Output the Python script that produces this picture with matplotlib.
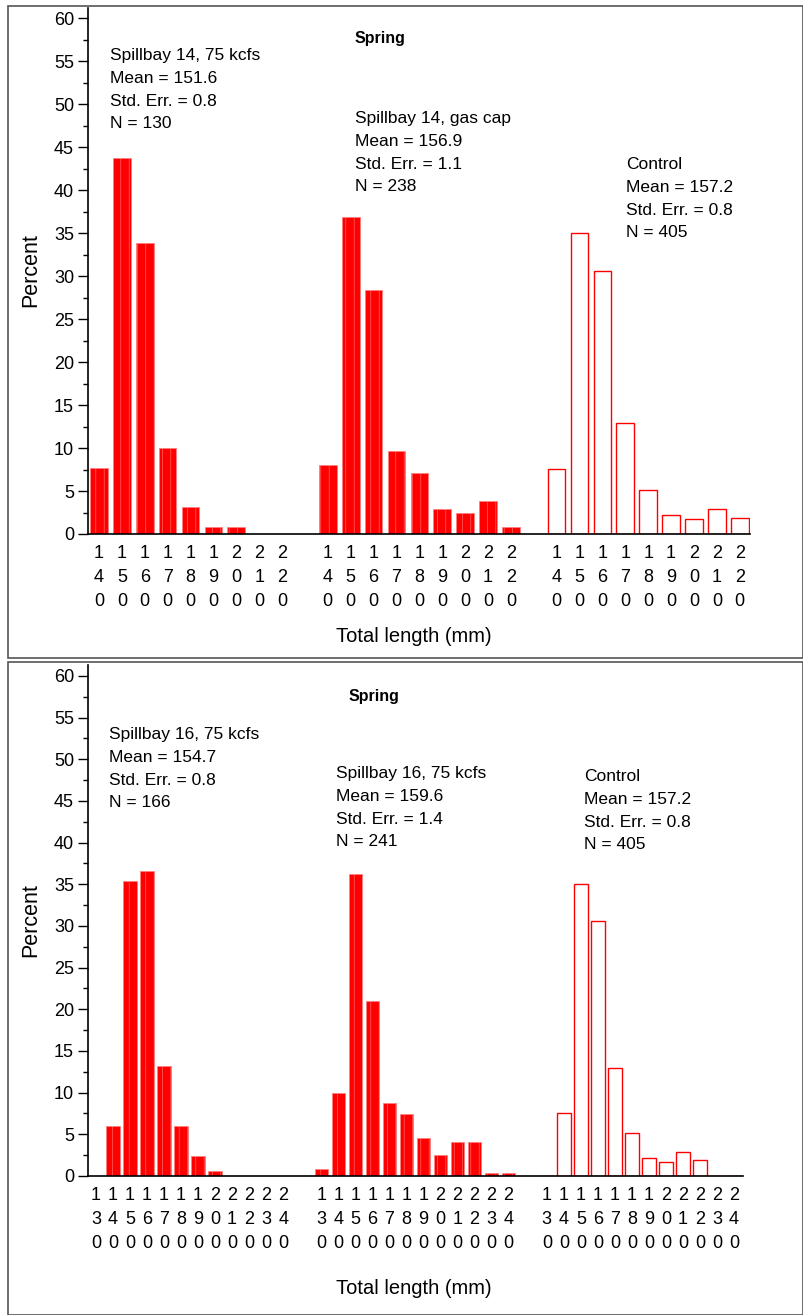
import matplotlib
matplotlib.use("Agg")
import matplotlib.pyplot as plt
import numpy as np
from matplotlib import font_manager
from matplotlib.patches import Rectangle
from matplotlib.ticker import MultipleLocator

# SAS output uses a condensed Helvetica; take a narrow face if one is installed
names = {f.name for f in font_manager.fontManager.ttflist}
narrow = 'Liberation Sans Narrow' in names
plt.rcParams['font.family'] = (['Liberation Sans Narrow'] if narrow else []) + ['Liberation Sans', 'DejaVu Sans']
plt.rcParams['hatch.linewidth'] = 0.4
sp = '  ' if narrow else ' '

# ---- data (percent of fish per 10 mm length bin) ----
bins_top = [140, 150, 160, 170, 180, 190, 200, 210, 220]
sb14_75 = [7.7, 43.8, 33.8, 10.0, 3.1, 0.8, 0.8, 0.0, 0.0]
sb14_gas = [8.0, 36.9, 28.4, 9.7, 7.1, 2.9, 2.5, 3.8, 0.8]
control_top = [7.6, 35.0, 30.6, 12.9, 5.1, 2.2, 1.7, 2.9, 1.9]

bins_bot = [130, 140, 150, 160, 170, 180, 190, 200, 210, 220, 230, 240]
sb16_75a = [0.0, 6.0, 35.4, 36.6, 13.2, 6.0, 2.4, 0.6, 0.0, 0.0, 0.0, 0.0]
sb16_75b = [0.8, 9.9, 36.2, 21.0, 8.7, 7.4, 4.6, 2.5, 4.1, 4.1, 0.4, 0.4]
control_bot = [0.0, 7.6, 35.0, 30.6, 12.9, 5.1, 2.2, 1.7, 2.9, 1.9, 0.0, 0.0]

top_groups = [sb14_75, sb14_gas, control_top]
bot_groups = [sb16_75a, sb16_75b, control_bot]

top_notes = [["Spillbay 14,", "75", "kcfs"], ["Mean", "=", "151.6"], ["Std.", "Err.", "=", "0.8"], ["N", "=", "130"]], \
            [["Spillbay 14,", "gas", "cap"], ["Mean", "=", "156.9"], ["Std.", "Err.", "=", "1.1"], ["N", "=", "238"]], \
            [["Control"], ["Mean", "=", "157.2"], ["Std.", "Err.", "=", "0.8"], ["N", "=", "405"]]
bot_notes = [["Spillbay 16,", "75", "kcfs"], ["Mean", "=", "154.7"], ["Std.", "Err.", "=", "0.8"], ["N", "=", "166"]], \
            [["Spillbay 16,", "75", "kcfs"], ["Mean", "=", "159.6"], ["Std.", "Err.", "=", "1.4"], ["N", "=", "241"]], \
            [["Control"], ["Mean", "=", "157.2"], ["Std.", "Err.", "=", "0.8"], ["N", "=", "405"]]

W, H = 804, 1315
fig = plt.figure(figsize=(W / 100, H / 100), dpi=100)
RED = '#ff0000'


def px_axes(l, t, r, b):
    return fig.add_axes([l / W, 1 - b / H, (r - l) / W, (b - t) / H])


def ftext(x, y, s, **kw):
    fig.text(x / W, 1 - y / H, s, **kw)


def note(x, y0, lines, gap=22.8):
    for i, words in enumerate(lines):
        ftext(x, y0 + i * gap, sp.join(words), fontsize=12.5, va='baseline', ha='left')


def panel(ax, bins, groups, step, width, xlim, ylim_top):
    pos_all, lab_all = [], []
    for g, vals in enumerate(groups):
        pos = np.arange(len(bins)) + g * step
        if g < 2:
            ax.bar(pos, vals, width=width, color=RED, edgecolor='#ff8080',
                   linewidth=0.6, hatch='||')
        else:
            ax.bar(pos, vals, width=width, facecolor='white', edgecolor=RED,
                   linewidth=1.0)
        pos_all += list(pos)
        lab_all += ['\n'.join(str(b)) for b in bins]
    ax.set_xlim(*xlim)
    ax.set_ylim(0, ylim_top)
    ax.set_xticks(pos_all)
    ax.set_xticklabels(lab_all, fontsize=13, linespacing=1.52)
    ax.tick_params(axis='x', length=0, pad=8)
    ax.yaxis.set_major_locator(MultipleLocator(5))
    ax.yaxis.set_minor_locator(MultipleLocator(2.5))
    ax.set_yticks(np.arange(0, 61, 5))
    ax.tick_params(axis='y', which='major', length=7, width=1, pad=3, labelsize=13)
    ax.tick_params(axis='y', which='minor', length=3.5, width=1)
    for s in ['top', 'right']:
        ax.spines[s].set_visible(False)
    for s in ['left', 'bottom']:
        ax.spines[s].set_linewidth(1.2)


# ---- top panel ----
ax1 = px_axes(88, 8, 750, 534)
panel(ax1, bins_top, top_groups, 10, 0.77, (-0.48, 28.45), 61.2)

# ---- bottom panel ----
ax2 = px_axes(88, 665, 743, 1176)
panel(ax2, bins_bot, bot_groups, 13.25, 0.8, (-0.47, 38.03), 61.3)

# annotations
for (x, y), lines in zip([(110, 60), (355, 123), (626, 169)], top_notes):
    note(x, y, lines)
for (x, y), lines in zip([(109, 739), (336, 778), (584, 781)], bot_notes):
    note(x, y, lines)

ftext(380, 38, 'Spring', fontsize=11.5, fontweight='bold', ha='center', va='center')
ftext(374, 697, 'Spring', fontsize=11.5, fontweight='bold', ha='center', va='center')

ftext(31, 270, 'Percent', fontsize=15.5, rotation=90, ha='center', va='center')
ftext(31, 920, 'Percent', fontsize=15.5, rotation=90, ha='center', va='center')
ftext(414, 637, sp.join(['Total', 'length', '(mm)']), fontsize=14.5, ha='center', va='center')
ftext(414, 1288, sp.join(['Total', 'length', '(mm)']), fontsize=14.5, ha='center', va='center')

# panel frames
fig.add_artist(Rectangle((8 / W, 1 - 658 / H), 795 / W, 652 / H, transform=fig.transFigure,
                         fill=False, edgecolor='#555555', linewidth=1.2))
fig.add_artist(Rectangle((8 / W, 0.0), 795 / W, (H - 662) / H, transform=fig.transFigure,
                         fill=False, edgecolor='#555555', linewidth=1.2))

fig.savefig('out.png', dpi=100)
